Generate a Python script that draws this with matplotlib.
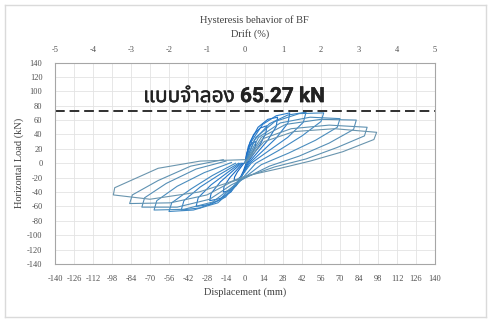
import matplotlib
matplotlib.use("Agg")
import matplotlib.pyplot as plt
from matplotlib.lines import Line2D
import matplotlib.patheffects as pe

plt.rcParams['axes.unicode_minus'] = False

# displacement (mm) / load (kN) for each cycle
disp_c1 = [0, 1.2, 3.2, 5.6, 8, 7.7, 5.6, 3.2, 0.8, -1.2, -3.2, -5.6, -8, -7.7, -5.6, -3.2, -0.8]
load_c1 = [0, 13.5, 23.4, 28.5, 30, 24, 15, 7.5, 0, -10.8, -18.7, -22.8, -24, -19.2, -12, -6, 0]
disp_c2 = [0, 2.4, 6.4, 11.2, 16, 15.4, 11.2, 6.4, 1.6, -2.4, -6.4, -11.2, -16, -15.4, -11.2, -6.4, -1.6]
load_c2 = [0, 23, 40, 49, 52, 42, 26, 13, 0, -18, -31, -38, -40, -32, -20, -10, 0]
disp_c3 = [0, 3.6, 9.6, 16.8, 24, 23, 16.8, 9.6, 2.4, -3.9, -10.4, -18.2, -26, -25, -18.2, -10.4, -2.6]
load_c3 = [0, 29, 50, 61, 64, 51, 32, 16, 0, -23, -40, -49, -52, -42, -26, -13, 0]
disp_c4 = [0, 5, 13, 23, 33, 31.7, 23, 13, 3.3, -5.4, -14.4, -25, -36, -34.5, -25, -14.4, -3.6]
load_c4 = [0, 31, 54, 66, 70, 56, 35, 17, 0, -27, -47, -57, -60, -48, -30, -15, 0]
disp_c5 = [0, 6.8, 18, 31.5, 45, 43, 31.5, 18, 4.5, -7, -19, -33, -47, -45, -33, -19, -4.7]
load_c5 = [0, 32, 55, 67, 71, 57, 36, 18, 0, -29, -51, -62, -65, -52, -33, -16, 0]
disp_c6 = [0, 8, 22, 40, 58, 56, 42, 25, 8, -8, -20, -38, -56, -54, -40, -24, -7]
load_c6 = [0, 36, 58, 69, 70, 58, 38, 18, 0, -34, -55, -65, -67, -55, -36, -17, 0]
disp_c7 = [0, 10, 26, 48, 70, 68, 52, 32, 12, -10, -24, -45, -67, -65, -50, -30, -10]
load_c7 = [0, 36, 56, 64, 62, 50, 32, 14, -2, -34, -54, -64, -65, -52, -32, -13, 1]
disp_c8 = [0, 12, 30, 56, 82, 80, 62, 40, 18, -10, -26, -50, -76, -74, -58, -36, -14]
load_c8 = [0, 36, 54, 61, 60, 47, 28, 10, -4, -30, -50, -61, -61, -48, -28, -8, 3]
disp_c9 = [0, 13, 34, 62, 90, 88, 68, 45, 22, -10, -28, -55, -85, -83, -64, -40, -16]
load_c9 = [0, 34, 48, 53, 50, 38, 22, 6, -5, -26, -44, -55, -56, -44, -24, -4, 5]
disp_c10 = [0, 14, 36, 66, 97, 95, 72, 48, 26, 0, -14, -34, -70, -97, -96, -64, -33, 0]
load_c10 = [0, 30, 44, 48, 43, 33, 16, 3, -7, -18, -28, -40, -50, -44, -34, -7, 3, 5]

cycles = [(disp_c1, load_c1), (disp_c2, load_c2), (disp_c3, load_c3),
          (disp_c4, load_c4), (disp_c5, load_c5), (disp_c6, load_c6),
          (disp_c7, load_c7), (disp_c8, load_c8), (disp_c9, load_c9),
          (disp_c10, load_c10)]
cycle_colors = ['#1565c0', '#1a6cc4', '#1f74c8', '#2a7cc9', '#3683c6',
                '#3f88c2', '#4b8dbd', '#568fb6', '#5f92b2', '#6a95ae']

model_load = 72.5
x_ticks = list(range(-140, 141, 14))
y_ticks = list(range(-140, 141, 20))
drift_ticks = [-5, -4, -3, -2, -1, 0, 1, 2, 3, 4, 5]

serif = 'Liberation Serif'
tick_col = '#505050'

fig = plt.figure(figsize=(4.89, 3.2), dpi=100)
ax = fig.add_axes([55 / 489, 1 - 264 / 320, 380 / 489, 201.5 / 320])

for (d, f), c in zip(cycles, cycle_colors):
    ax.plot(d, f, color=c, lw=0.8, solid_joinstyle='round')

ax.axhline(model_load, color='#303030', lw=1.4, ls=(0, (5, 2.5)))
ax.text(-75, 85, 'แบบจำลอง 65.27 kN', fontsize=15, fontweight='bold',
        color='#222222', ha='left', va='baseline',
        family=['Roboto', 'Noto Sans Thai', 'Noto Sans Thai UI', 'Sarabun', 'Loma'],
        path_effects=[pe.withStroke(linewidth=0.3, foreground='#222222')])

ax.set_xlim(-140, 140)
ax.set_ylim(-140, 140)
ax.set_xticks(x_ticks)
ax.set_yticks(y_ticks)
ax.grid(True, color='#e3e3e3', lw=0.6)
ax.set_axisbelow(True)
ax.tick_params(length=0, labelsize=6, labelcolor=tick_col)
ax.tick_params(axis='y', pad=9)
ax.tick_params(axis='x', pad=8)
for lab in ax.get_xticklabels() + ax.get_yticklabels():
    lab.set_family(serif)
for s in ax.spines.values():
    s.set_color('#a6a6a6')
    s.set_linewidth(0.8)

ax.set_xlabel('Displacement (mm)', fontsize=7.5, family=serif, color='#404040', labelpad=3)
ax.set_ylabel('Horizontal Load (kN)', fontsize=7.5, family=serif, color='#404040', labelpad=2)

top = ax.secondary_xaxis('top', functions=(lambda x: x / 28, lambda p: p * 28))
top.set_xticks(drift_ticks)
top.tick_params(length=0, labelsize=6, labelcolor=tick_col, pad=6)
for lab in top.get_xticklabels():
    lab.set_family(serif)
top.spines['top'].set_visible(False)

fig.text(254 / 489, 1 - 20 / 320, 'Hysteresis behavior of BF', fontsize=7.5,
         family=serif, color='#404040', ha='center', va='center')
fig.text(250 / 489, 1 - 34 / 320, 'Drift (%)', fontsize=7.5,
         family=serif, color='#404040', ha='center', va='center')

# light frame round the chart
for xs, ys in [([5, 5], [5, 317]), ([5, 486], [5, 5]), ([5, 486], [317, 317]), ([486, 486], [5, 317])]:
    fig.add_artist(Line2D([x / 489 for x in xs], [1 - y / 320 for y in ys],
                          color='#dadada', lw=1.0))

fig.savefig('out.png', dpi=100)
